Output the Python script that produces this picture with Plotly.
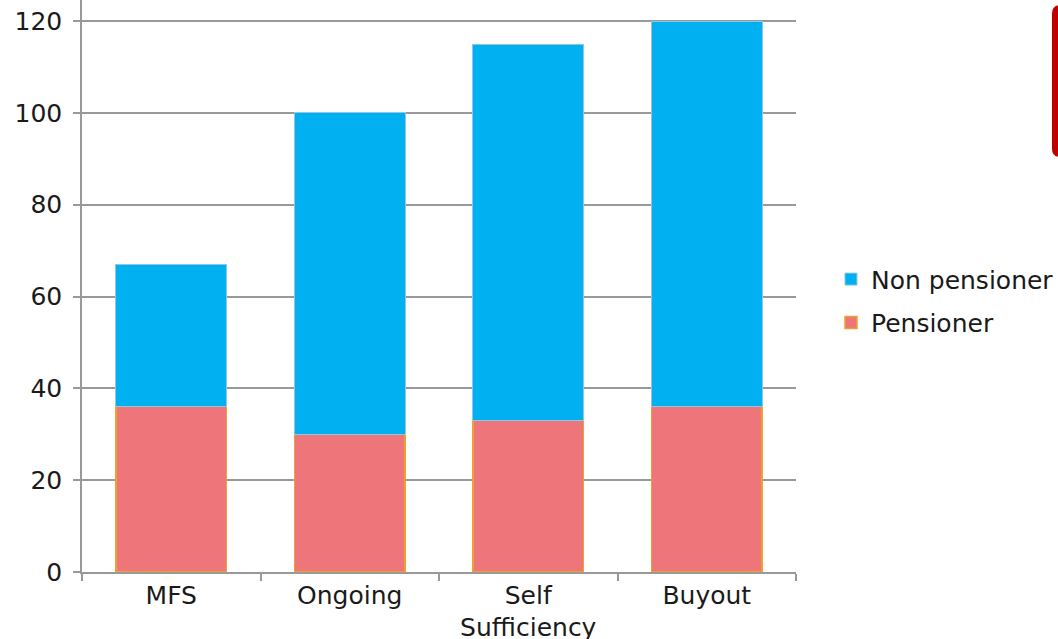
import plotly.graph_objects as go

categories = ["MFS", "Ongoing", "Self<br>Sufficiency", "Buyout"]
pensioner = [36, 30, 33, 36]
non_pensioner = [31, 70, 82, 84]
y_ticks = [0, 20, 40, 60, 80, 100, 120]

fig = go.Figure()
fig.add_trace(go.Bar(
    name="Pensioner", x=categories, y=pensioner, legendgroup="p", legendrank=2,
    marker=dict(color="#EE757A", line=dict(color="#F0A030", width=1.5)),
))
fig.add_trace(go.Bar(
    name="Non pensioner", x=categories, y=non_pensioner, legendgroup="np", legendrank=1,
    marker=dict(color="#00B0F0", line=dict(color="#8FC8E0", width=1)),
))

# Red rounded tab at the right edge
x0, x1, y0, y1, r = 1.3585, 1.3800, 0.7255, 0.991, 0.012
path = (f"M {x0+r},{y1} L {x1},{y1} L {x1},{y0} L {x0+r},{y0} "
        f"Q {x0},{y0} {x0},{y0+r*1.25} L {x0},{y1-r*1.25} Q {x0},{y1} {x0+r},{y1} Z")
fig.add_shape(type="path", path=path, xref="paper", yref="paper",
              fillcolor="#C00000", line=dict(width=0))

fig.update_layout(
    barmode="stack",
    bargap=0.38,
    width=1058, height=639,
    margin=dict(l=82, r=262, t=0, b=67, autoexpand=False),
    paper_bgcolor="white", plot_bgcolor="white",
    font=dict(family="DejaVu Sans, Arial, sans-serif", size=25, color="#1a1a1a"),
    showlegend=True,
    legend=dict(x=1.049, y=0.474, xanchor="left", yanchor="middle",
                traceorder="grouped", font=dict(size=25),
                tracegroupgap=8, itemwidth=30),
    xaxis=dict(showline=True, linecolor="#999999", linewidth=1.5,
               ticks="outside", tickson="boundaries", ticklen=7,
               tickcolor="#999999", tickwidth=1.5, showgrid=False,
               ticklabelstandoff=0, automargin=False),
    yaxis=dict(range=[0, 124.6], tickvals=y_ticks, showline=True,
               linecolor="#999999", linewidth=1.5, ticks="outside", ticklen=7,
               tickcolor="#999999", tickwidth=1.5, showgrid=True,
               gridcolor="#999999", gridwidth=1.5, zeroline=False,
               ticklabelstandoff=6, automargin=False),
)

fig.write_html("out.html")
